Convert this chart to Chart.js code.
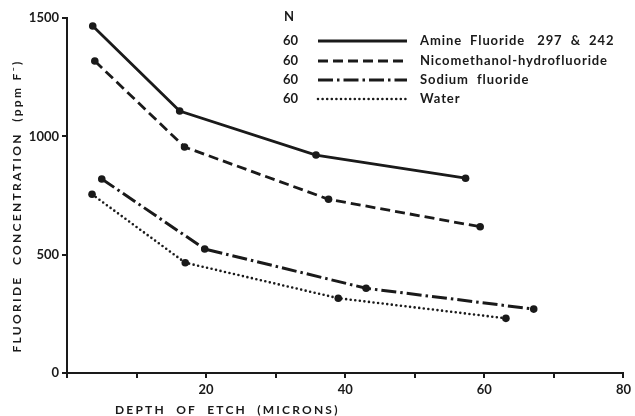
<!DOCTYPE html>
<html>
<head>
<meta charset="utf-8">
<script src="https://cdn.jsdelivr.net/npm/chart.js@4.4.1/dist/chart.umd.min.js"></script>
<style>
    html, body { margin: 0; padding: 0; background: #fff; }
    #wrap { width: 635px; height: 416px; }
</style>
</head>
<body>
<div id="wrap"><canvas id="chart" width="635" height="416"></canvas></div>
<script>
/* Datos */
const seriesNames = ['Amine  Fluoride   297  &  242', 'Nicomethanol-hydrofluoride', 'Sodium  fluoride', 'Water'];
const nValues = [60, 60, 60, 60];

const amineDepth = [3.7, 16.2, 35.8, 57.3];
const amineConc = [1466, 1107, 921, 823];

const nicoDepth = [4.0, 16.9, 37.6, 59.4];
const nicoConc = [1318, 955, 734, 618];

const sodiumDepth = [5.0, 19.8, 43.0, 67.1];
const sodiumConc = [820, 524, 358, 270];

const waterDepth = [3.6, 17.0, 39.0, 63.1];
const waterConc = [755, 466, 316, 231];

const xLabelTicks = [20, 40, 60, 80];
const yTicks = [0, 500, 1000, 1500];

const ink = '#1a1a1a';
const fontFamily = 'Lato, "DejaVu Sans", sans-serif';

function points(xs, ys) {
    return xs.map((x, i) => ({ x, y: ys[i] }));
}

function makeSet(label, xs, ys, dash, width, cap) {
    return {
        label,
        data: points(xs, ys),
        borderColor: ink,
        backgroundColor: ink,
        borderWidth: width,
        borderDash: dash,
        borderCapStyle: cap,
        pointRadius: 3.8,
        pointBorderWidth: 0,
        pointBackgroundColor: ink,
        tension: 0,
        fill: false
    };
}

/* Leyenda y títulos de ejes dibujados a mano */
const paperPlugin = {
    id: 'paper',
    afterDraw(chart) {
        const ctx = chart.ctx;
        ctx.save();
        ctx.fillStyle = ink;
        ctx.strokeStyle = ink;

        // legend
        ctx.font = `bold 13px ${fontFamily}`;
        ctx.textBaseline = 'middle';
        ctx.textAlign = 'left';
        ctx.fillText('N', 284, 17);
        const rows = [41, 61, 80, 99];
        chart.data.datasets.forEach((ds, i) => {
            const y = rows[i];
            ctx.textAlign = 'right';
            ctx.letterSpacing = '0px';
            ctx.fillText(String(nValues[i]), 298, y);
            ctx.beginPath();
            ctx.lineWidth = ds.borderWidth;
            ctx.lineCap = ds.borderCapStyle;
            ctx.setLineDash(ds.borderDash);
            ctx.moveTo(318, y);
            ctx.lineTo(407, y);
            ctx.stroke();
            ctx.setLineDash([]);
            ctx.lineCap = 'butt';
            ctx.textAlign = 'left';
            ctx.letterSpacing = '0.9px';
            ctx.fillText(ds.label, 420, y);
        });

        // x title
        ctx.font = `bold 12px ${fontFamily}`;
        ctx.letterSpacing = '2.2px';
        ctx.textAlign = 'left';
        ctx.fillText('DEPTH  OF  ETCH  (MICRONS)', 115, 410);

        // y title
        ctx.translate(17, 206);
        ctx.rotate(-Math.PI / 2);
        ctx.textAlign = 'center';
        ctx.letterSpacing = '2.3px';
        ctx.fillText('FLUORIDE  CONCENTRATION  (ppm F\u207B)', 0, 0);
        ctx.restore();
    }
};

const tickFont = { family: fontFamily, size: 13, weight: 'bold' };
const axisGrid = {
    display: true,
    drawOnChartArea: false,
    drawTicks: true,
    tickLength: 5,
    color: ink,
    lineWidth: 2
};

new Chart(document.getElementById('chart'), {
    type: 'line',
    data: {
        datasets: [
            makeSet(seriesNames[0], amineDepth, amineConc, [], 2.8, 'butt'),
            makeSet(seriesNames[1], nicoDepth, nicoConc, [10, 5], 2.8, 'butt'),
            makeSet(seriesNames[2], sodiumDepth, sodiumConc, [15, 4, 2.5, 4], 3, 'butt'),
            makeSet(seriesNames[3], waterDepth, waterConc, [0, 4.6], 2.6, 'round')
        ]
    },
    options: {
        responsive: false,
        animation: false,
        layout: { padding: { top: 18, right: 9, bottom: 0, left: 0 } },
        plugins: {
            legend: { display: false },
            tooltip: { enabled: false }
        },
        scales: {
            x: {
                type: 'linear',
                min: 0,
                max: 80,
                afterFit(scale) { scale.height = 43; },
                afterBuildTicks(scale) {
                    const t = [];
                    for (let v = 0; v <= 80; v += 10) t.push({ value: v });
                    scale.ticks = t;
                },
                ticks: {
                    color: ink,
                    font: tickFont,
                    padding: 4,
                    maxRotation: 0,
                    autoSkip: false,
                    callback: (v) => xLabelTicks.includes(v) ? String(v) : ''
                },
                grid: axisGrid,
                border: { display: true, color: ink, width: 2 }
            },
            y: {
                type: 'linear',
                min: 0,
                max: 1500,
                afterFit(scale) { scale.width = 67; },
                afterBuildTicks(scale) {
                    scale.ticks = yTicks.map((v) => ({ value: v }));
                },
                ticks: {
                    color: ink,
                    font: tickFont,
                    padding: 3,
                    callback: (v) => String(v)
                },
                grid: axisGrid,
                border: { display: true, color: ink, width: 2 }
            }
        }
    },
    plugins: [paperPlugin]
});
</script>
</body>
</html>
